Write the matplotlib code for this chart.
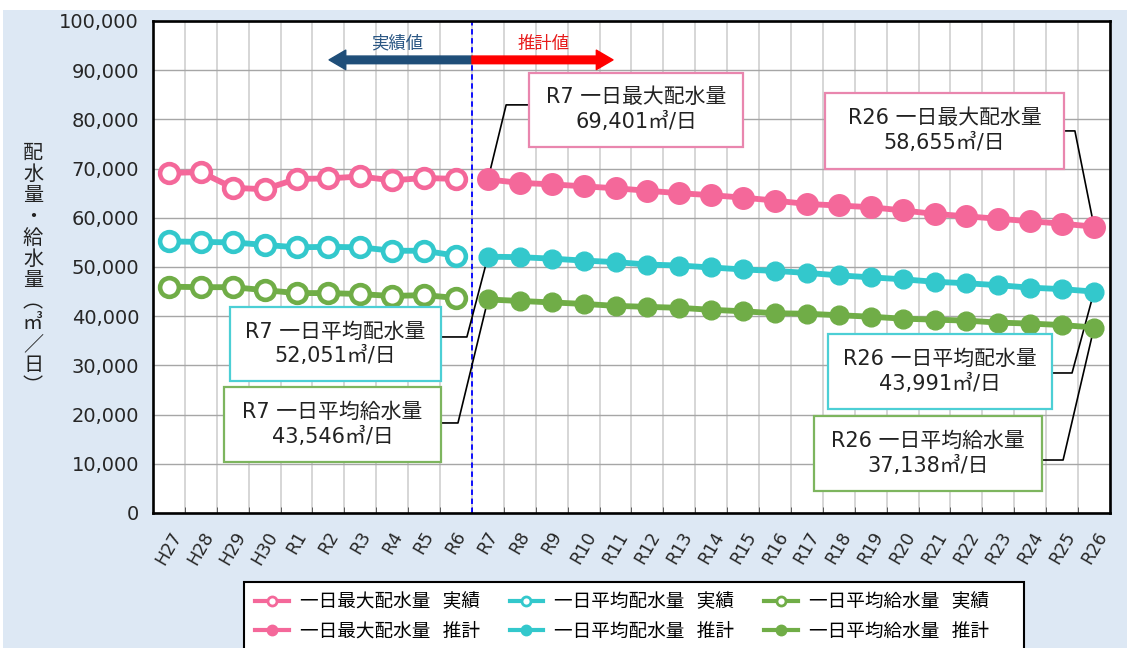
import matplotlib
matplotlib.use("Agg")
import matplotlib.pyplot as plt
import numpy as np
from matplotlib.lines import Line2D
from matplotlib.patches import FancyArrowPatch, Rectangle
from matplotlib.ticker import FuncFormatter

# fiscal years (Heisei / Reiwa)
YEARS = ["H27", "H28", "H29", "H30", "R1", "R2", "R3", "R4", "R5", "R6",
         "R7", "R8", "R9", "R10", "R11", "R12", "R13", "R14", "R15", "R16",
         "R17", "R18", "R19", "R20", "R21", "R22", "R23", "R24", "R25", "R26"]
N_ACTUAL = 10

# 一日最大配水量 (m3/day)
MAX_ACTUAL = [69100, 69300, 66100, 65800, 67900, 68000, 68400, 67600, 68100, 67900]
MAX_FORECAST = [67800, 67100, 66800, 66400, 66000, 65500, 65000, 64600, 64100, 63500,
                62800, 62500, 62150, 61500, 60800, 60300, 59800, 59300, 58800, 58200]
# 一日平均配水量
AVG_DIST_ACTUAL = [55200, 55100, 55000, 54500, 54000, 54100, 54000, 53300, 53300, 52300]
AVG_DIST_FORECAST = [52100, 52000, 51700, 51300, 51000, 50500, 50300, 49900, 49500, 49200,
                     48800, 48300, 47900, 47500, 47000, 46700, 46300, 45800, 45500, 45000]
# 一日平均給水量
AVG_SUP_ACTUAL = [46000, 45900, 45900, 45300, 44700, 44700, 44500, 44100, 44300, 43700]
AVG_SUP_FORECAST = [43400, 43100, 42800, 42500, 42100, 41900, 41700, 41300, 41000, 40600,
                    40500, 40200, 39900, 39500, 39300, 39100, 38700, 38500, 38200, 37700]

PINK = "#f4689a"
CYAN = "#33c8cc"
GREEN = "#70ad47"
NAVY = "#1f4e79"
RED = "#ff0000"
BG = "#dde8f4"
MIX = ["DejaVu Sans", "Noto Sans CJK JP"]
JP = ["Noto Sans CJK JP", "DejaVu Sans"]

W, H = 1127, 648


def callout(ax, x0, x1, y0, y1, text, edge, path):
    ax.add_patch(Rectangle((x0, y0), x1 - x0, y1 - y0, facecolor="white",
                           edgecolor=edge, lw=1.6, zorder=6))
    ax.text((x0 + x1) / 2, (y0 + y1) / 2, text, ha="center", va="center",
            fontsize=15, family=MIX, color="#222222", linespacing=1.3, zorder=7)
    xs, ys = zip(*path)
    ax.plot(xs, ys, color="black", lw=1.2, zorder=2.6, solid_capstyle="butt")


def main():
    fig = plt.figure(figsize=(W / 100, H / 100), dpi=100)
    fig.patch.set_facecolor("white")
    fig.add_artist(Rectangle((3 / W, 0), 1, 1 - 10 / H, transform=fig.transFigure,
                             facecolor=BG, edgecolor="none", zorder=-10))

    ax = fig.add_axes([153 / W, 1 - 513 / H, (1110 - 153) / W, (513 - 21) / H])
    ax.set_facecolor("white")

    xa = np.arange(N_ACTUAL)
    xf = np.arange(N_ACTUAL, len(YEARS))

    for act, fc, col, fs in [(MAX_ACTUAL, MAX_FORECAST, PINK, 15.5),
                             (AVG_DIST_ACTUAL, AVG_DIST_FORECAST, CYAN, 13.5),
                             (AVG_SUP_ACTUAL, AVG_SUP_FORECAST, GREEN, 13.5)]:
        ax.plot(xa, act, color=col, lw=4.2, marker="o", ms=13.5, mfc="white",
                mec=col, mew=3.3, zorder=4)
        ax.plot(xf, fc, color=col, lw=4.2, marker="o", ms=fs, mfc=col,
                mec=col, zorder=4)

    ax.set_xlim(-0.5, len(YEARS) - 0.5)
    ax.set_ylim(0, 100000)
    ax.set_yticks(np.arange(0, 100001, 10000))
    ax.yaxis.set_major_formatter(FuncFormatter(lambda v, p: f"{int(v):,}"))
    ax.set_xticks(np.arange(len(YEARS)))
    ax.set_xticklabels(YEARS, rotation=60, fontsize=12.5, color="#262626")
    ax.set_xticks(np.arange(-0.5, len(YEARS)), minor=True)
    ax.tick_params(axis="x", which="major", length=0, pad=11)
    ax.tick_params(axis="x", which="minor", length=4, direction="in", color="#444444")
    ax.tick_params(axis="y", length=0, pad=10, labelsize=14, labelcolor="#262626")

    ax.yaxis.grid(True, color="#a6a6a6", lw=1.0)
    ax.xaxis.grid(True, which="minor", color="#d0d0d0", lw=1.2)
    ax.set_axisbelow(True)
    for s in ax.spines.values():
        s.set_linewidth(1.9)
        s.set_color("black")

    # 実績 / 推計 boundary
    ax.axvline(N_ACTUAL - 0.5, color="#0000ff", lw=1.3, ls=(0, (3, 2)), zorder=2.5)
    ax.add_patch(FancyArrowPatch((N_ACTUAL - 0.5, 92100), (5.02, 92100),
                                 arrowstyle="simple,head_width=1.4,head_length=1.2,tail_width=0.55",
                                 mutation_scale=10, color=NAVY, shrinkA=0, shrinkB=0, zorder=5))
    ax.add_patch(FancyArrowPatch((N_ACTUAL - 0.5, 92100), (13.92, 92100),
                                 arrowstyle="simple,head_width=1.4,head_length=1.2,tail_width=0.55",
                                 mutation_scale=10, color=RED, shrinkA=0, shrinkB=0, zorder=5))
    ax.text(7.15, 95400, "実績値", ha="center", va="center", fontsize=12.5,
            family=JP, color="#2b5784")
    ax.text(11.73, 95400, "推計値", ha="center", va="center", fontsize=12.5,
            family=JP, color="#e81b1b")

    # callouts
    callout(ax, 11.29, 18.0, 74400, 89450, "R7 一日最大配水量\n69,401㎥/日", "#e986ae",
            [(11.29, 82950), (10.57, 82950), (10, MAX_FORECAST[0])])
    callout(ax, 20.57, 28.06, 69940, 85390, "R26 一日最大配水量\n58,655㎥/日", "#e986ae",
            [(28.06, 77660), (28.40, 77660), (29, MAX_FORECAST[-1])])
    callout(ax, 1.91, 8.53, 26840, 41880, "R7 一日平均配水量\n52,051㎥/日", "#4ccfd5",
            [(8.53, 35780), (9.34, 35780), (10, AVG_DIST_FORECAST[0])])
    callout(ax, 1.73, 8.53, 10370, 25620, "R7 一日平均給水量\n43,546㎥/日", "#7db55e",
            [(8.53, 18300), (9.06, 18300), (10, AVG_SUP_FORECAST[0])])
    callout(ax, 20.66, 27.68, 21140, 36390, "R26 一日平均配水量\n43,991㎥/日", "#4ccfd5",
            [(27.68, 28460), (28.31, 28460), (29, AVG_DIST_FORECAST[-1])])
    callout(ax, 20.22, 27.37, 4470, 19720, "R26 一日平均給水量\n37,138㎥/日", "#7db55e",
            [(27.37, 10770), (28.03, 10770), (29, AVG_SUP_FORECAST[-1])])

    # vertical y label, one glyph per slot
    chars = ["配", "水", "量", "・", "給", "水", "量", "︵", "㎥", "／", "日", "︶"]
    for i, ch in enumerate(chars):
        cy = 153 + i * 21.3
        fig.text(33 / W, 1 - cy / H, ch, ha="center", va="center", fontsize=14.5,
                 family=JP, color="#222222")

    # legend (frame drawn separately so it can run wider than the entries)
    fig.add_artist(Rectangle((244 / W, -0.05), (1024 - 244) / W, 0.05 + 1 - 582 / H,
                             transform=fig.transFigure, facecolor="white",
                             edgecolor="black", lw=1.5, zorder=4))
    handles = []
    for col, name in [(PINK, "一日最大配水量"), (CYAN, "一日平均配水量"), (GREEN, "一日平均給水量")]:
        handles.append(Line2D([], [], color=col, lw=3.0, marker="o", ms=6.5, mfc="white",
                              mec=col, mew=2.0, label=f"{name}   実績"))
        handles.append(Line2D([], [], color=col, lw=3.0, marker="o", ms=7.5, mfc=col,
                              mec=col, label=f"{name}   推計"))
    fig.legend(handles=handles, loc="upper left", bbox_to_anchor=(244 / W, 1 - 582 / H),
               ncol=3, frameon=False, prop={"family": JP, "size": 13.4},
               handlelength=1.8, handletextpad=0.6, columnspacing=1.6, borderpad=0.6,
               labelspacing=0.62, borderaxespad=0)

    fig.savefig("out.png", dpi=100, facecolor=fig.get_facecolor())


if __name__ == "__main__":
    main()
